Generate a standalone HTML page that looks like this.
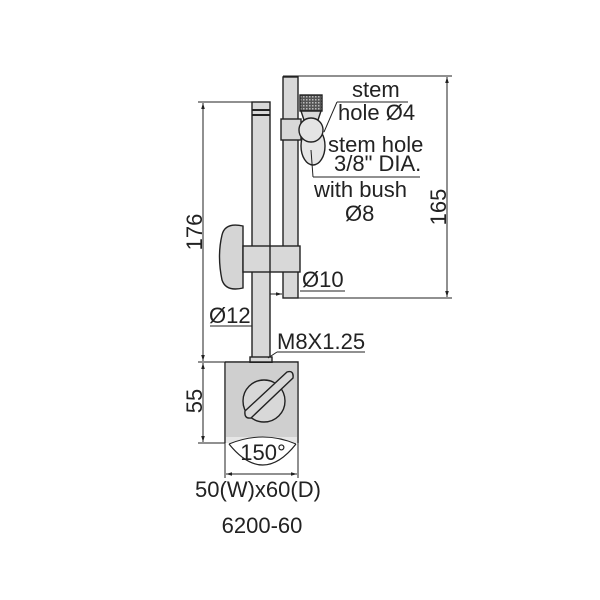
<!DOCTYPE html>
<html><head><meta charset="utf-8"><style>
html,body{margin:0;padding:0;background:#fff}
svg{display:block}
text{font-family:"Liberation Sans",Arial,sans-serif;fill:#222}
</style></head><body>
<svg width="600" height="600" viewBox="0 0 600 600" xmlns="http://www.w3.org/2000/svg">
<defs>
<pattern id="kn" width="3" height="3" patternUnits="userSpaceOnUse"><rect width="3" height="3" fill="#555"/><rect width="1.5" height="1.5" fill="#bbb"/></pattern>
<marker id="ar" viewBox="0 0 10 10" refX="10" refY="5" markerWidth="6" markerHeight="6" orient="auto-start-reverse"><path d="M0,2 L10,5 L0,8z" fill="#222"/></marker>
</defs>
<g stroke="#222" stroke-width="1.4" fill="#d8d8d8">
<rect x="283" y="77" width="15" height="221"/>
<rect x="252" y="102" width="18" height="256"/>
<line x1="252" y1="110" x2="270" y2="110" stroke-width="2"/>
<line x1="252" y1="115" x2="270" y2="115" stroke-width="2"/>
<rect x="250" y="357" width="22" height="6"/>
<path d="M225,362 L298,362 L298,443 M225,362 L225,443" fill="none"/>
<rect x="226" y="363" width="71" height="74" fill="#cfcfcf" stroke="none"/>
<rect x="226" y="437" width="71" height="6" fill="#e6e6e6" stroke="none"/>
<path d="M229,444 Q263,430 296,444" fill="#fff" stroke-width="1"/>
<path d="M229,444 Q263,486 296,444" fill="none" stroke-width="1.2"/>
<circle cx="264" cy="401" r="21" fill="#d8d8d8"/>
<path d="M245,411 L287,372 Q294,370 293,378 L251,418 Q244,419 245,411z" fill="#d8d8d8"/>
<path d="M243,226 Q225,222 222,235 Q217,256 222,280 Q226,292 243,288z" fill="#d5d5d5"/>
<rect x="243" y="246" width="57" height="26"/>
<line x1="270" y1="246" x2="270" y2="272"/>
<rect x="281" y="119" width="20" height="21"/>
<ellipse cx="313" cy="146" rx="12" ry="19" fill="#e6e6e6"/>
<rect x="300" y="95" width="22" height="16" fill="url(#kn)"/>
<path d="M301,111 L321,111 L318,120 L304,120z"/>
<circle cx="311" cy="130" r="12" fill="#e4e4e4"/>
</g>
<g stroke="#222" stroke-width="1" fill="none">
<line x1="283" y1="76" x2="452" y2="76"/>
<line x1="298" y1="298" x2="452" y2="298"/>
<line x1="447" y1="77" x2="447" y2="297" marker-start="url(#ar)" marker-end="url(#ar)"/>
<line x1="198" y1="102" x2="252" y2="102"/>
<line x1="203" y1="103" x2="203" y2="361" marker-start="url(#ar)" marker-end="url(#ar)"/>
<line x1="198" y1="362" x2="225" y2="362"/>
<line x1="203" y1="363" x2="203" y2="442" marker-start="url(#ar)" marker-end="url(#ar)"/>
<line x1="198" y1="443" x2="225" y2="443"/>
<line x1="225" y1="443" x2="225" y2="478"/>
<line x1="298" y1="443" x2="298" y2="478"/>
<line x1="226" y1="474" x2="297" y2="474" marker-start="url(#ar)" marker-end="url(#ar)"/>
<line x1="337" y1="102" x2="408" y2="102"/>
<line x1="337" y1="102" x2="324" y2="132"/>
<line x1="313" y1="177" x2="420" y2="177"/>
<line x1="313" y1="177" x2="311" y2="150"/>
<line x1="300" y1="291" x2="345" y2="291"/>
<line x1="270" y1="294" x2="282" y2="294" marker-end="url(#ar)"/>
<line x1="210" y1="326" x2="252" y2="326"/>
<line x1="277" y1="352" x2="365" y2="352"/>
<line x1="277" y1="352" x2="268" y2="358"/>
</g>
<g font-size="22">
<text x="352" y="97">stem</text>
<text x="338" y="120">hole Ø4</text>
<text x="328" y="152">stem  hole</text>
<text x="334" y="171">3/8" DIA.</text>
<text x="314" y="197">with bush</text>
<text x="345" y="221">Ø8</text>
<text x="302" y="287">Ø10</text>
<text x="209" y="323">Ø12</text>
<text x="277" y="349">M8X1.25</text>
<text x="263" y="460" text-anchor="middle">150°</text>
<text x="258" y="497" text-anchor="middle">50(W)x60(D)</text>
<text x="262" y="533" text-anchor="middle">6200-60</text>
<text transform="translate(446,207) rotate(-90)" text-anchor="middle">165</text>
<text transform="translate(202,232) rotate(-90)" text-anchor="middle">176</text>
<text transform="translate(202,401) rotate(-90)" text-anchor="middle">55</text>
</g>
</svg>
</body></html>
